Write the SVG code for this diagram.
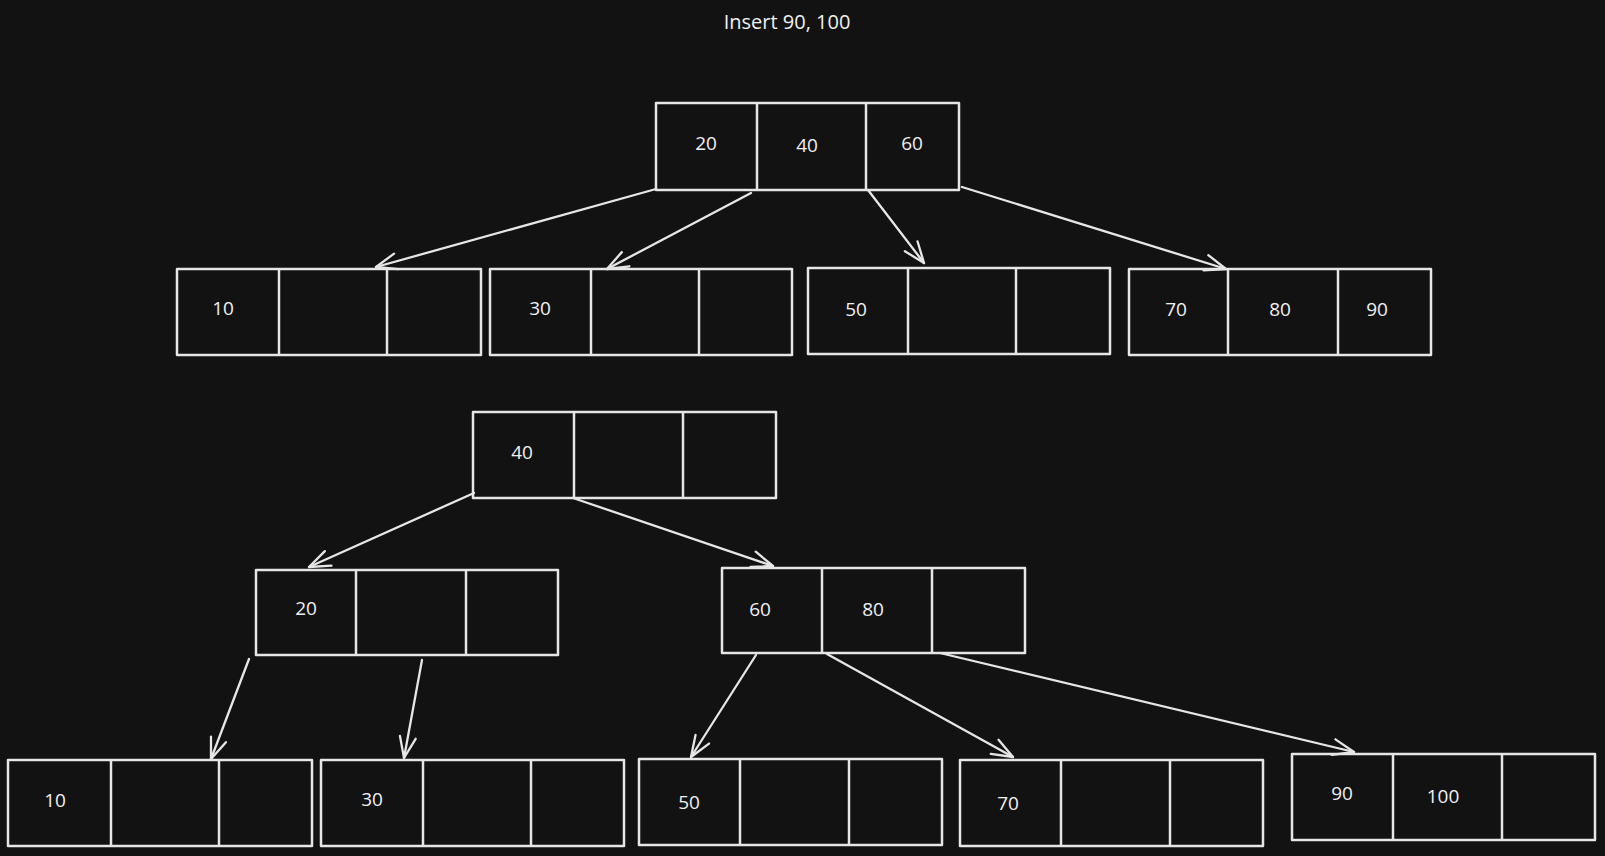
<svg xmlns="http://www.w3.org/2000/svg" width="1605" height="856" viewBox="0 0 1605 856">
<defs>
<style>
.bg{fill:#121212}
.box{fill:none;stroke:#e6e6e6;stroke-width:2.5;stroke-linejoin:round}
.div{stroke:#e6e6e6;stroke-width:2.5}
.lbl{fill:#f0f0f0;font-family:"Open Sans","Liberation Sans",sans-serif;font-size:19px;text-anchor:middle;dominant-baseline:central}
.title{fill:#f0f0f0;font-family:"Open Sans","Liberation Sans",sans-serif;font-size:20px;text-anchor:middle;dominant-baseline:central}
.edge{fill:none;stroke:#e6e6e6;stroke-width:2.3;stroke-linecap:round;marker-end:url(#arr)}
</style>
<marker id="arr" markerUnits="userSpaceOnUse" viewBox="-24 -12 26 24" markerWidth="26" markerHeight="24" refX="0" refY="0" orient="auto">
<path d="M-21,-8 L0,0 L-21,8" fill="none" stroke="#e6e6e6" stroke-width="2.3" stroke-linecap="round" stroke-linejoin="round"/>
</marker>
</defs>
<rect class="bg" x="0" y="0" width="1605" height="856"/>
<text class="title" x="787" y="21">Insert 90, 100</text>

<g id="connectors">
<path class="edge" d="M656,189 L376,267"/>
<path class="edge" d="M751,193 L607,269"/>
<path class="edge" d="M868,190 L924,263"/>
<path class="edge" d="M962,187 L1226,269"/>
<path class="edge" d="M474,493 L309,567"/>
<path class="edge" d="M573,498 L773,566"/>
<path class="edge" d="M249,659 L211,759"/>
<path class="edge" d="M422,660 L404,758"/>
<path class="edge" d="M756,655 L691,757"/>
<path class="edge" d="M827,654 L1013,757"/>
<path class="edge" d="M940,653 L1354,752"/>
</g>

<g id="root1">
<rect class="box" x="656" y="103" width="303" height="87"/>
<line class="div" x1="757" y1="103" x2="757" y2="190"/>
<line class="div" x1="866" y1="103" x2="866" y2="190"/>
<text class="lbl" x="706" y="143">20</text>
<text class="lbl" x="807" y="145">40</text>
<text class="lbl" x="912" y="143">60</text>
</g>

<g id="leaf10">
<rect class="box" x="177" y="269" width="304" height="86"/>
<line class="div" x1="279" y1="269" x2="279" y2="355"/>
<line class="div" x1="387" y1="269" x2="387" y2="355"/>
<text class="lbl" x="223" y="308">10</text>
</g>

<g id="leaf30">
<rect class="box" x="490" y="269" width="302" height="86"/>
<line class="div" x1="591" y1="269" x2="591" y2="355"/>
<line class="div" x1="699" y1="269" x2="699" y2="355"/>
<text class="lbl" x="540" y="308">30</text>
</g>

<g id="leaf50">
<rect class="box" x="808" y="268" width="302" height="86"/>
<line class="div" x1="908" y1="268" x2="908" y2="354"/>
<line class="div" x1="1016" y1="268" x2="1016" y2="354"/>
<text class="lbl" x="856" y="309">50</text>
</g>

<g id="leaf708090">
<rect class="box" x="1129" y="269" width="302" height="86"/>
<line class="div" x1="1228" y1="269" x2="1228" y2="355"/>
<line class="div" x1="1338" y1="269" x2="1338" y2="355"/>
<text class="lbl" x="1176" y="309">70</text>
<text class="lbl" x="1280" y="309">80</text>
<text class="lbl" x="1377" y="309">90</text>
</g>

<g id="root2">
<rect class="box" x="473" y="412" width="303" height="86"/>
<line class="div" x1="574" y1="412" x2="574" y2="498"/>
<line class="div" x1="683" y1="412" x2="683" y2="498"/>
<text class="lbl" x="522" y="452">40</text>
</g>

<g id="n20">
<rect class="box" x="256" y="570" width="302" height="85"/>
<line class="div" x1="356" y1="570" x2="356" y2="655"/>
<line class="div" x1="466" y1="570" x2="466" y2="655"/>
<text class="lbl" x="306" y="608">20</text>
</g>

<g id="n6080">
<rect class="box" x="722" y="568" width="303" height="85"/>
<line class="div" x1="822" y1="568" x2="822" y2="653"/>
<line class="div" x1="932" y1="568" x2="932" y2="653"/>
<text class="lbl" x="760" y="609">60</text>
<text class="lbl" x="873" y="609">80</text>
</g>

<g id="b10">
<rect class="box" x="8" y="760" width="304" height="86"/>
<line class="div" x1="111" y1="760" x2="111" y2="846"/>
<line class="div" x1="219" y1="760" x2="219" y2="846"/>
<text class="lbl" x="55" y="800">10</text>
</g>

<g id="b30">
<rect class="box" x="321" y="760" width="303" height="86"/>
<line class="div" x1="423" y1="760" x2="423" y2="846"/>
<line class="div" x1="531" y1="760" x2="531" y2="846"/>
<text class="lbl" x="372" y="799">30</text>
</g>

<g id="b50">
<rect class="box" x="639" y="759" width="303" height="86"/>
<line class="div" x1="740" y1="759" x2="740" y2="845"/>
<line class="div" x1="849" y1="759" x2="849" y2="845"/>
<text class="lbl" x="689" y="802">50</text>
</g>

<g id="b70">
<rect class="box" x="960" y="760" width="303" height="86"/>
<line class="div" x1="1061" y1="760" x2="1061" y2="846"/>
<line class="div" x1="1170" y1="760" x2="1170" y2="846"/>
<text class="lbl" x="1008" y="803">70</text>
</g>

<g id="b90100">
<rect class="box" x="1292" y="754" width="303" height="86"/>
<line class="div" x1="1393" y1="754" x2="1393" y2="840"/>
<line class="div" x1="1502" y1="754" x2="1502" y2="840"/>
<text class="lbl" x="1342" y="793">90</text>
<text class="lbl" x="1443" y="796">100</text>
</g>
</svg>
